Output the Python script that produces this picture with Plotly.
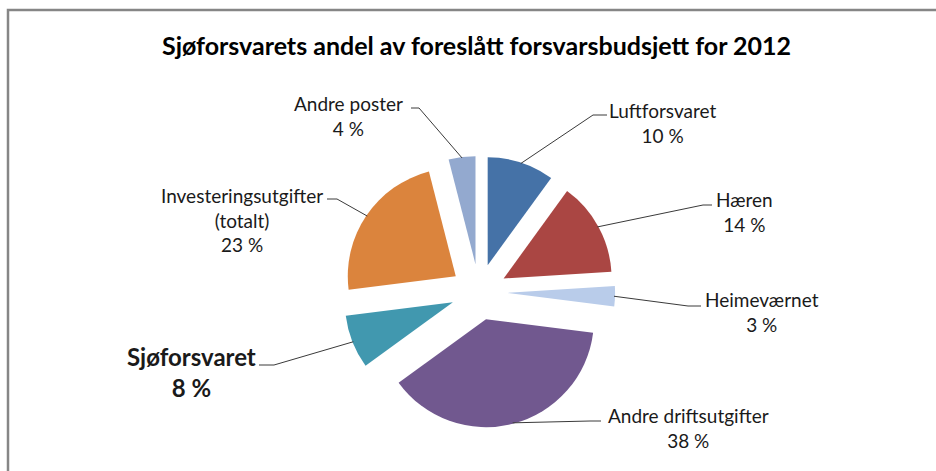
import numpy as np
import plotly.graph_objects as go

# ---- data ----
categories = ["Luftforsvaret", "Hæren", "Heimeværnet", "Andre driftsutgifter",
              "Sjøforsvaret", "Investeringsutgifter (totalt)", "Andre poster"]
label_text = ["Luftforsvaret", "Hæren", "Heimeværnet", "Andre driftsutgifter",
              "Sjøforsvaret", "Investeringsutgifter<br>(totalt)", "Andre poster"]
values = [10, 14, 3, 38, 8, 23, 4]
title_text = "Sjøforsvarets andel av foreslått forsvarsbudsjett for 2012"

# ---- styles / layout ----
colors = ["#4572A7", "#AA4643", "#B9CCEA", "#71588F", "#4198AF", "#DB843D", "#93A9CF"]
W, H = 936, 471
CX, CY = 479, 292          # pie centre in px
R = 108                    # pie radius in px
PULL = 0.26
S = R * (1 + PULL)

# label block centre (px) and the text-side end / elbow of each leader line
label_pos = [(662, 123), (744, 212), (762, 312), (688, 428), (191, 372), (242, 220), (348, 116)]
leader_end = [(607, 115), (712, 205), (701, 306), (601, 421), (259, 365), (327, 199), (411, 108)]
leader_elbow = [(593, 115), (703, 205), (688, 306), (590, 421), (274, 365), (337, 199), (419, 108)]
bold = [False, False, False, False, True, False, False]

def px(x):
    return x / W

def py(y):
    return 1 - y / H

fig = go.Figure()
fig.add_trace(go.Pie(
    labels=categories, values=values, sort=False, direction="clockwise", rotation=0,
    pull=PULL, textinfo="none", hoverinfo="label+percent",
    marker=dict(colors=colors, line=dict(width=0)),
    domain=dict(x=[px(CX - S), px(CX + S)], y=[py(CY + S), py(CY - S)]),
    showlegend=False,
))

total = float(sum(values))
shapes = []
annotations = []
cum = 0.0
for i, v in enumerate(values):
    mid = (cum + v / 2) / total * 2 * np.pi
    cum += v
    dx, dy = np.sin(mid), -np.cos(mid)
    ox, oy = CX + PULL * R * dx, CY + PULL * R * dy
    ax, ay = ox + (R - 1) * dx, oy + (R - 1) * dy
    ex, ey = leader_elbow[i]
    tx, ty = leader_end[i]
    path = f"M {px(ax)},{py(ay)} L {px(ex)},{py(ey)} L {px(tx)},{py(ty)}"
    shapes.append(dict(type="path", xref="paper", yref="paper", path=path,
                       line=dict(color="#3a3a3a", width=1)))
    pct = f"{round(v / total * 100):.0f} %"
    if bold[i]:
        txt = f"<b>{label_text[i]}<br>{pct}</b>"
        size = 24
    else:
        txt = f"{label_text[i]}<br>{pct}"
        size = 19
    lx, ly = label_pos[i]
    annotations.append(dict(text=txt, x=px(lx), y=py(ly), xref="paper", yref="paper",
                            xanchor="center", yanchor="middle", align="center",
                            showarrow=False, font=dict(family="Lato", size=size, color="#1a1a1a")))

annotations.append(dict(text=f"<b>{title_text}</b>", x=px(476), y=py(45), xref="paper", yref="paper",
                        xanchor="center", yanchor="middle", showarrow=False,
                        font=dict(family="Lato", size=25, color="#000000")))

# chart frame (top and left edges visible)
shapes.append(dict(type="rect", xref="paper", yref="paper", x0=px(8), x1=px(W + 20),
                   y0=py(H + 20), y1=py(10), line=dict(color="#868686", width=2.5)))

fig.update_layout(width=W, height=H, margin=dict(l=0, r=0, t=0, b=0),
                  paper_bgcolor="white", plot_bgcolor="white",
                  shapes=shapes, annotations=annotations)

fig.write_html("out.html", config={"displayModeBar": False},
               post_script="document.body.style.margin='0';document.body.style.overflow='hidden';")
